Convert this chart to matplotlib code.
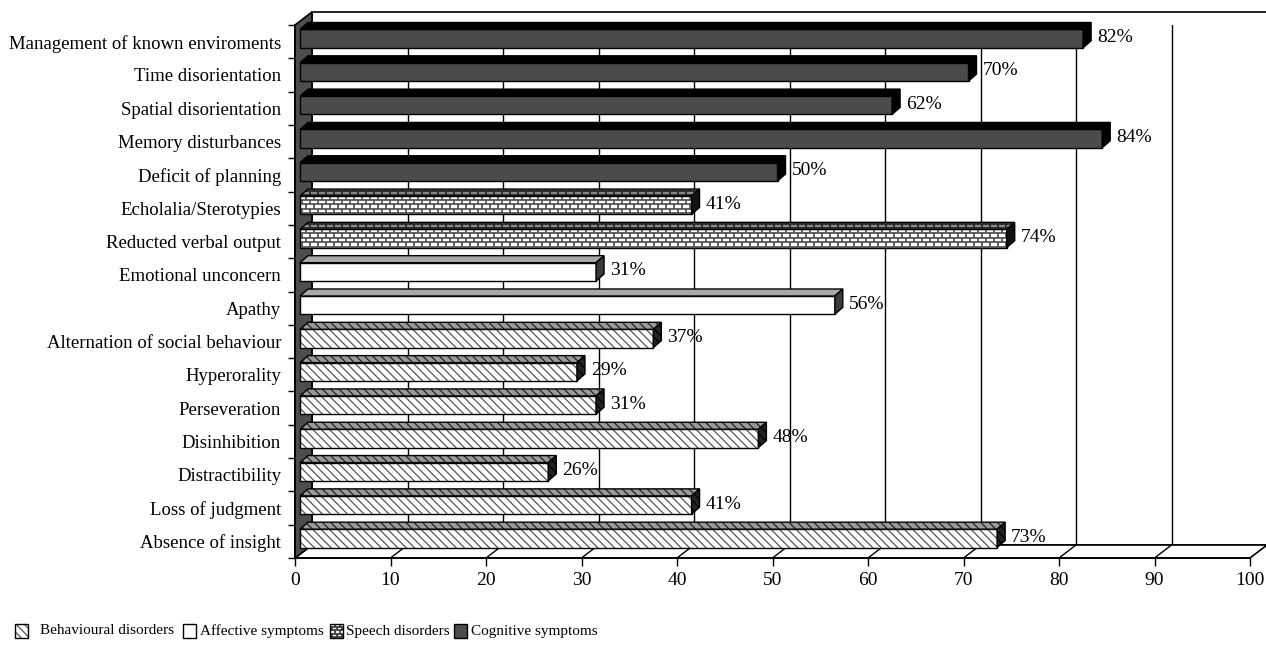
import matplotlib
matplotlib.use("Agg")
import matplotlib.pyplot as plt
from matplotlib.patches import Polygon
from matplotlib.collections import LineCollection
from matplotlib.transforms import IdentityTransform

plt.rcParams['font.family'] = ['Liberation Serif', 'DejaVu Serif']
plt.rcParams['hatch.linewidth'] = 0.9

# symptoms, top to bottom
labels = ['Management of known enviroments', 'Time disorientation',
          'Spatial disorientation', 'Memory disturbances', 'Deficit of planning',
          'Echolalia/Sterotypies', 'Reducted verbal output',
          'Emotional unconcern', 'Apathy',
          'Alternation of social behaviour', 'Hyperorality', 'Perseveration',
          'Disinhibition', 'Distractibility', 'Loss of judgment',
          'Absence of insight']
values = [82, 70, 62, 84, 50, 41, 74, 31, 56, 37, 29, 31, 48, 26, 41, 73]
groups = ['cog'] * 5 + ['speech'] * 2 + ['aff'] * 2 + ['beh'] * 7
legend_names = ['Behavioural disorders', 'Affective symptoms',
                'Speech disorders', 'Cognitive symptoms']
legend_keys = ['beh', 'aff', 'speech', 'cog']

W, H = 1266, 649
fig = plt.figure(figsize=(W / 100, H / 100), dpi=100)
ax = fig.add_axes([295 / W, (H - 558) / H, 955 / W, 533 / H])
n = len(labels)
ax.set_xlim(0, 100)
ax.set_ylim(n - 0.5, -0.5)
ax.patch.set_visible(False)

ID = IdentityTransform()
D = (17, 13)       # depth of the box (pixels)
d1 = (5, 3)        # bar front face inside the box
bd = (8, 7)        # bar depth
h = 0.55           # bar thickness


def px(v, y, off=(0, 0)):
    x0, y0 = ax.transData.transform((v, y))
    return (x0 + off[0], y0 + off[1])


def add(a, b):
    return (a[0] + b[0], a[1] + b[1])


def poly(pts, z=1, **kw):
    p = Polygon(pts, closed=True, transform=ID, clip_on=False, zorder=z, **kw)
    ax.add_patch(p)
    return p


def bricks(patch, pts, color, z, rowh=4.5, bw=8.0):
    xs = [p[0] for p in pts]
    ys = [p[1] for p in pts]
    x0, x1, y0, y1 = min(xs), max(xs), min(ys), max(ys)
    segs = []
    y = y0 + 1
    row = 0
    while y < y1:
        segs.append([(x0, y), (x1, y)])
        x = x0 + (bw / 2 if row % 2 else 0) + 2
        while x < x1:
            segs.append([(x, y), (x, min(y + rowh, y1))])
            x += bw
        y += rowh
        row += 1
    lc = LineCollection(segs, colors=color, linewidths=1.2, transform=ID, zorder=z)
    ax.add_collection(lc)
    lc.set_clip_box(None)
    lc.set_clip_path(patch)


def face(pts, kind, z):
    # kind: (fill, hatch colour or None, brick colour or None)
    fc, hc, brc = kind
    if hc is not None:
        poly(pts, z=z, fc=fc, ec=hc, lw=0, hatch='\\\\\\\\')
    else:
        p = poly(pts, z=z, fc=fc, ec='none', lw=0)
        if brc is not None:
            bricks(p, pts, brc, z + 0.01)
    poly(pts, z=z + 0.02, fc='none', ec='black', lw=1.0)


styles = {
    'cog': [('#4b4b4b', None, None), ('#000000', None, None), ('#000000', None, None)],
    'aff': [('white', None, None), ('#a8a8a8', None, None), ('#3a3a3a', None, None)],
    'speech': [('white', None, '#4a4a4a'), ('#8a8a8a', None, '#222222'), ('#111111', None, None)],
    'beh': [('white', '#555555', None), ('#9a9a9a', '#222222', None), ('#222222', '#000000', None)],
}

# back wall, floor and left wall
top, bot = -0.5, n - 0.5
poly([px(0, bot, D), px(100, bot, D), px(100, top, D), px(0, top, D)],
     z=0.5, fc='white', ec='black', lw=1.2)
grid = [[px(v, bot, D), px(v, top, D)] for v in range(10, 100, 10)]
ax.add_collection(LineCollection(grid, colors='black', linewidths=1.0,
                                 transform=ID, zorder=0.6))
poly([px(0, bot), px(100, bot), px(100, bot, D), px(0, bot, D)],
     z=0.7, fc='white', ec='black', lw=1.2)
floor = [[px(v, bot), px(v, bot, D)] for v in range(10, 101, 10)]
ax.add_collection(LineCollection(floor, colors='black', linewidths=1.0,
                                 transform=ID, zorder=0.8))
poly([px(0, bot), px(0, top), px(0, top, D), px(0, bot, D)],
     z=0.9, fc='#4d4d4d', ec='black', lw=1.2)

# bars
for i, (v, g) in enumerate(zip(values, groups)):
    st = styles[g]
    a = px(0, i + h / 2, d1)
    b = px(v, i + h / 2, d1)
    c = px(v, i - h / 2, d1)
    d = px(0, i - h / 2, d1)
    face([a, b, c, d], st[0], 3)
    face([d, c, add(c, bd), add(d, bd)], st[1], 3.1)
    face([b, c, add(c, bd), add(b, bd)], st[2], 3.2)
    ax.annotate(f'{v}%', xy=(v, i), xytext=(d1[0] + bd[0] + 6, d1[1] + 1),
                textcoords='offset pixels', ha='left', va='center',
                fontsize=14, zorder=5)

# axes and ticks
for s in ['top', 'right']:
    ax.spines[s].set_visible(False)
for s in ['left', 'bottom']:
    ax.spines[s].set_linewidth(1.2)
    ax.spines[s].set_zorder(2)
ax.set_xticks(range(0, 101, 10))
ax.tick_params(axis='x', direction='out', length=6, width=1, pad=4, labelsize=14)
ax.set_yticks(range(n))
ax.set_yticklabels(labels)
ax.set_yticks([k - 0.5 for k in range(n + 1)], minor=True)
ax.tick_params(axis='y', which='major', length=0, pad=10, labelsize=13.5)
ax.tick_params(axis='y', which='minor', direction='out', length=5, width=1)

# legend row
leg_x = [15, 183, 330, 454]
txt_x = [40, 200, 346, 471]
for key, name, lx, tx in zip(legend_keys, legend_names, leg_x, txt_x):
    fc, hc, brc = styles[key][0]
    r = [(lx, H - 638), (lx + 13, H - 638), (lx + 13, H - 624), (lx, H - 624)]
    if hc is not None:
        poly(r, z=4, fc=fc, ec=hc, lw=0, hatch='\\\\\\\\')
    else:
        p = poly(r, z=4, fc=fc, ec='none', lw=0)
        if brc is not None:
            bricks(p, r, '#333333', 4.01, rowh=3.5, bw=5)
    poly(r, z=4.02, fc='none', ec='black', lw=1.0)
    fig.text(tx / W, (H - 631) / H, name, ha='left', va='center', fontsize=11)

fig.savefig('out.png', dpi=100)
